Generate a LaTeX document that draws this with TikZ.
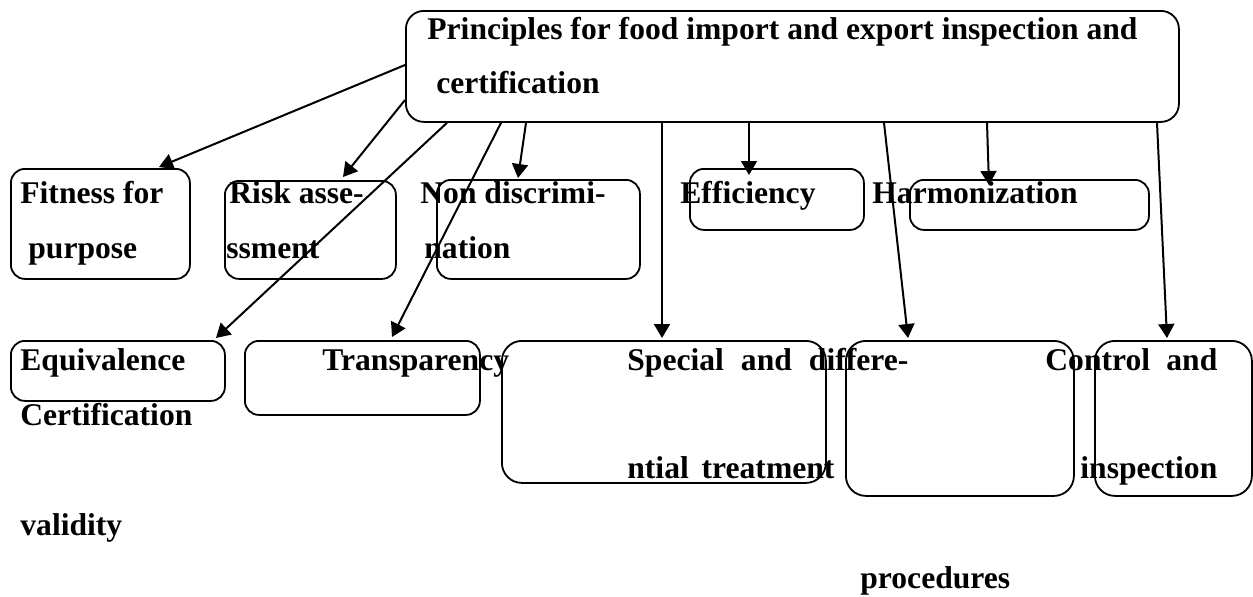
\documentclass[tikz,border=0pt]{standalone}
\usepackage{fontspec}
\setmainfont{Liberation Serif}
\usetikzlibrary{arrows.meta,calc}

\begin{document}
\begin{tikzpicture}[x=0.5pt,y=-0.5pt,
  box/.style={draw, line width=0.9pt, rounded corners=7pt, inner sep=0pt, anchor=north west},
  lbl/.style={anchor=base west, inner sep=0pt, font=\fontsize{15.8}{19}\selectfont\bfseries},
  arr/.style={line width=1pt, -{Triangle[length=7pt,width=8pt]}}]
\useasboundingbox (0,0) rectangle (1253,596);

% boxes
\node[box, rounded corners=9pt, minimum width=386.5pt, minimum height=55.5pt] (top) at (405,10) {};
\node[box, minimum width=89.5pt,  minimum height=55pt]   (fit)    at (10,168)  {};
\node[box, minimum width=85.5pt,  minimum height=49pt]   (risk)   at (224,180) {};
\node[box, minimum width=101.5pt, minimum height=49.5pt] (nond)   at (436,179) {};
\node[box, minimum width=87pt,    minimum height=30.5pt] (eff)    at (689,168) {};
\node[box, minimum width=119.5pt, minimum height=25pt]   (harm)   at (909,179) {};
\node[box, minimum width=107pt,   minimum height=30pt]   (equiv)  at (10,340)  {};
\node[box, minimum width=117.5pt, minimum height=37pt]   (transp) at (244,340) {};
\node[box, rounded corners=10pt, minimum width=162pt, minimum height=71pt]   (spec) at (501,340) {};
\node[box, rounded corners=10pt, minimum width=114pt, minimum height=77.5pt] (proc) at (845,340) {};
\node[box, rounded corners=10pt, minimum width=78.5pt, minimum height=77.5pt] (ctrl) at (1094,340) {};

% connectors
\draw[arr] ($(top.north west)+(0,55)$)  -- ($(fit.north west)+(149,-1)$);
\draw[arr] ($(top.north west)+(0,90)$)  -- ($(risk.north west)+(119,-3)$);
\draw[arr] ($(top.south west)+(42,0)$)  -- ($(equiv.north west)+(206,-2)$);
\draw[arr] ($(top.south west)+(96,0)$)  -- ($(transp.north west)+(148,-3)$);
\draw[arr] ($(top.south west)+(121,0)$) -- ($(nond.north west)+(82,-1)$);
\draw[arr] ($(top.south west)+(257,0)$) -- ($(spec.north west)+(161,-2)$);
\draw[arr] ($(top.south west)+(344,0)$) -- ($(eff.north west)+(60,7)$);
\draw[arr] ($(top.south west)+(479,0)$) -- ($(proc.north west)+(63,-2)$);
\draw[arr] ($(top.south west)+(582,0)$) -- ($(harm.north west)+(80,6)$);
\draw[arr] ($(top.south west)+(752,0)$) -- ($(ctrl.north west)+(73,-2)$);

% texts
\node[lbl] (t1) at (427,39) {Principles for food import and export inspection and};
\node[lbl] (t2) at (436,93) {certification};
\node[lbl] (f1) at (20,203) {Fitness for};
\node[lbl] (f2) at (28,258) {purpose};
\node[lbl] (r1) at (229,203) {Risk asse-};
\node[lbl] (r2) at (226,258) {ssment};
\node[lbl] (n1) at (420,203) {Non discrimi-};
\node[lbl] (n2) at (424,258) {nation};
\node[lbl] (e1) at (680,203) {Efficiency};
\node[lbl] (h1) at (872,203) {Harmonization};
\node[lbl] (q1) at (20,370) {Equivalence};
\node[lbl] (q2) at (20,425) {Certification};
\node[lbl] (q3) at (20,535) {validity};
\node[lbl] (tr) at (322,370) {Transparency};
\node[lbl] (s1) at (627,370) {\makebox[140.5pt][s]{Special and differe-}};
\node[lbl] (s2) at (627,478) {\makebox[103.5pt][s]{ntial treatment}};
\node[lbl] (c1) at (1045,370) {\makebox[86pt][s]{Control and}};
\node[lbl] (c2) at (1080,478) {inspection};
\node[lbl] (p1) at (860,588) {procedures};
\end{tikzpicture}
\end{document}
